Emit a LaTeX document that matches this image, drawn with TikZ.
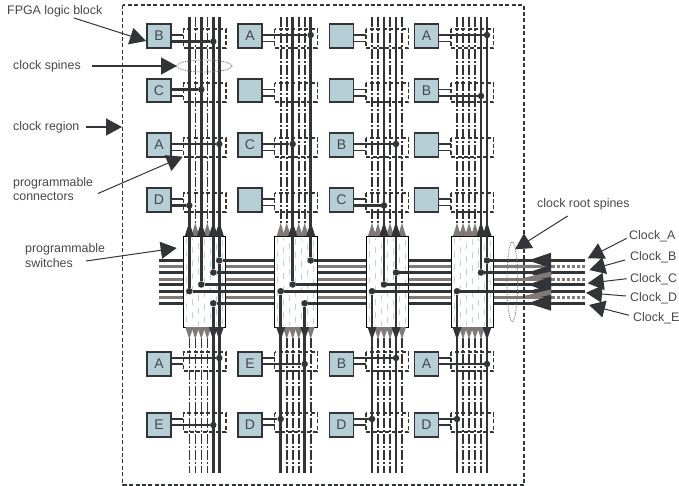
\documentclass[tikz,border=0pt]{standalone}
\usepackage{fontspec}
\setmainfont{Liberation Sans}
\usepackage{tikz}
\usetikzlibrary{arrows.meta}
\definecolor{wirecol}{HTML}{333438}
\definecolor{greycol}{HTML}{7F7A78}
\definecolor{blockcol}{HTML}{B6CED6}
\definecolor{speckcol}{HTML}{BCD5DC}
\definecolor{textcol}{HTML}{45474B}

\begin{document}
\begin{tikzpicture}[
    x=1pt, y=-1pt,
    every node/.style={font=\fontsize{12.4}{14.5}\selectfont, text=textcol, align=left},
    logicblock/.style={draw=wirecol, fill=blockcol, line width=1.6pt, minimum width=24pt,
        minimum height=23.5pt, inner sep=0pt, font=\fontsize{14}{14}\selectfont},
    connbox/.style={draw=wirecol, dash pattern=on 4pt off 2.4pt, line width=1.4pt},
    switchbox/.style={draw=black, fill=white, line width=0.7pt},
    solidwire/.style={wirecol, line width=2.6pt},
    dashwire/.style={wirecol, line width=1.6pt, dash pattern=on 10pt off 2pt on 2pt off 2pt},
    clockline/.style={wirecol, line width=2.6pt},
    greyline/.style={greycol, line width=3.2pt},
    stubline/.style={wirecol, line width=1.5pt},
    tapline/.style={wirecol, line width=2.6pt},
    tapdot/.style={circle, fill=wirecol, inner sep=0pt, minimum size=6.5pt},
    leader/.style={wirecol, line width=1pt, -{Triangle[length=16pt, width=17pt]}},
    spineoval/.style={draw=greycol, densely dotted, line width=0.9pt}
]
    \useasboundingbox (0,0) rectangle (679,486);

    % clock lines across the whole region
    \foreach \y in {266.4,279.2,297.3} {
        \draw[greyline] (159,\y) -- (552,\y);
        \draw[greycol, line width=3pt, dash pattern=on 3pt off 2pt] (552,\y) -- (585,\y);
    }
    \foreach \y in {260.5,272.5,284.5,291.2,303.3} {
        \draw[clockline] (159,\y) -- (585,\y);
    }

    % columns: left edge of the connector boxes, then the wires that are solid
    \foreach \c/\x/\top/\bot in {a/183.3/{0,2,4,5}/{4,5},b/274.7/{2,5}/{0,4},
                                 c/366/{2,4}/{0,4},d/451/{4,5}/{0,5}} {
        \foreach \y in {29,83,138,193,352,413} {
            \draw[connbox] (\x,\y) rectangle (\x+42.5,\y+19);
        }
        \foreach \i in {0,...,5} {
            \draw[dashwire] (\x+6+6*\i,17) -- (\x+6+6*\i,224);
            \draw[dashwire] (\x+6+6*\i,338) -- (\x+6+6*\i,473);
        }
        \draw[switchbox] (\x,236) rectangle (\x+42.5,327);
        \foreach \i in {0,...,6} {
            \draw[speckcol, line width=1pt, dash pattern=on 6pt off 7pt, dash phase=4*\i]
                (\x+3+6*\i,238) -- (\x+3+6*\i,326);
        }
        \foreach \i in {0,...,5} {
            \fill[greycol] (\x+2+6*\i,236) -- (\x+6+6*\i,223) -- (\x+10+6*\i,236) -- cycle;
            \fill[greycol] (\x+2+6*\i,327) -- (\x+6+6*\i,339) -- (\x+10+6*\i,327) -- cycle;
        }
        \foreach \i in \top {
            \fill[wirecol] (\x+1.5+6*\i,236) -- (\x+6+6*\i,222) -- (\x+10.5+6*\i,236) -- cycle;
            \draw[solidwire] (\x+6+6*\i,17) -- (\x+6+6*\i,236);
        }
        \foreach \i in \bot {
            \fill[wirecol] (\x+1.5+6*\i,327) -- (\x+6+6*\i,340) -- (\x+10.5+6*\i,327) -- cycle;
            \draw[solidwire] (\x+6+6*\i,327) -- (\x+6+6*\i,473);
        }
    }

    % logic blocks
    \foreach \n/\x/\y/\t in {a1/159/36/B,a2/159/90.5/C,a3/159/145/A,a4/159/200/D,a5/159/364/A,a6/159/425/E,
                             b1/250/36/A,b2/250/90.5/,b3/250/145/C,b4/250/200/,b5/250/364/E,b6/250/425/D,
                             c1/341.5/36/,c2/341.5/90.5/,c3/341.5/145/B,c4/341.5/200/C,c5/341.5/364/B,c6/341.5/425/D,
                             d1/426.5/36/A,d2/426.5/90.5/B,d3/426.5/145/,d4/426.5/200/,d5/426.5/364/A,d6/426.5/425/D} {
        \node[logicblock] (\n) at (\x,\y) {\t};
    }

    % short stubs from each block to its connector box
    \foreach \n/\x in {a/183.3,b/274.7,c/366,d/451} {
        \foreach \r/\y in {1/36,2/90.5,3/145,4/200} {
            \draw[stubline] (\n\r.east |- 0,\y-1) -- (\x,\y-1);
            \draw[stubline] (\n\r.east |- 0,\y+5.5) -- (\x,\y+5.5);
        }
        \foreach \r/\y in {5/364,6/425} {
            \draw[stubline] (\n\r.east |- 0,\y-6) -- (\x,\y-6);
            \draw[stubline] (\n\r.east |- 0,\y) -- (\x,\y);
        }
    }

    % taps from a block onto its clock wire
    \foreach \n/\x/\y in {a1/213.3/41.5,a2/201.3/89.5,a3/219.3/144,a4/189.3/205.5,a5/219.3/358,a6/213.3/425,
                          b1/310.7/35,b3/292.7/144,b5/304.7/364,b6/280.7/419,
                          c3/396/144,c4/384/205.5,c5/396/358,c6/372/419,
                          d1/487/35,d2/481/96,d5/487/364,d6/457/419} {
        \node[tapdot] (t\n) at (\x,\y) {};
        \draw[tapline] (\n.east |- t\n) -- (t\n);
    }

    % taps inside the switches
    \foreach \n/\x/\y/\e/\tip in {sa/219.3/260.5/225.8/17,sb/213.3/272.5/225.8/17,sc/201.3/284.5/225.8/17,
                                  sd/189.3/291.2/225.8/17,se/213.3/303.3/225.8/473,
                                  ta/310.7/260.5/317.2/17,tc/292.7/284.5/317.2/17,
                                  td/280.7/291.2/317.2/473,te/304.7/303.3/317.2/473,
                                  ub/396/272.5/408.5/17,uc/384/284.5/408.5/17,ud/372/291.2/408.5/473,
                                  va/487/260.5/493.5/17,vb/481/272.5/493.5/17,vd/457/291.2/493.5/473} {
        \node[tapdot] (\n) at (\x,\y) {};
        \draw[clockline] (\n) -- (\e,\y);
        \draw[solidwire] (\n) -- (\x,\tip);
    }
    % these three run right through their switch
    \draw[solidwire] (sa) -- (219.3,473);
    \draw[solidwire] (ub) -- (396,473);
    \draw[solidwire] (va) -- (487,473);

    % outer clock region
    \draw[connbox] (122.7,5) rectangle (524,485);

    % heads where the clocks enter
    \foreach \y/\a/\b in {260.5/252.7/268,272.5/265/282,284.5/277/293,291.2/285/300,303.3/295/310.7} {
        \fill[wirecol] (528,\y) -- (551,\a) -- (551,\b) -- cycle;
    }
    \fill[greycol] (510,264.8) -- (535,264.8) -- (544,266.6) -- (535,268) -- (510,268) -- cycle;
    \fill[greycol] (525,277.6) -- (551,271.5) -- (551,277) -- (525,280.8) -- cycle;
    \fill[greycol] (525,295.7) -- (551,289.5) -- (551,295) -- (525,298.9) -- cycle;

    % labels and their leaders
    \coordinate (tipblock) at (146,41);
    \coordinate (tipspine) at (177,66);
    \coordinate (tipregion) at (122,127);
    \coordinate (tipconn) at (182.7,156.7);
    \coordinate (tipswitch) at (176.7,248);
    \coordinate (tiproot) at (515,249.3);

    \node[anchor=west, inner sep=0pt] (lblblock) at (7,11) {FPGA logic block};
    \node[anchor=west, inner sep=0pt] (lblspine) at (13,66) {clock spines};
    \node[anchor=west, inner sep=0pt] (lblregion) at (13,127) {clock region};
    \node[anchor=west, inner sep=0pt] (lblconn) at (13,189) {programmable\\connectors};
    \node[anchor=west, inner sep=0pt] (lblswitch) at (25,255.5) {programmable\\switches};
    \node[anchor=west, inner sep=0pt] (lblroot) at (537,204) {clock root spines};

    \draw[leader] ([shift={(67,7)}]lblblock.west) -- (tipblock);
    \draw[leader, line width=1.3pt] ([shift={(79,0)}]lblspine.west) -- (tipspine);
    \draw[leader, line width=1.3pt] ([shift={(73,0)}]lblregion.west) -- (tipregion);
    \draw[leader] ([shift={(85,4.5)}]lblconn.west) -- (tipconn);
    \draw[leader] ([shift={(61,5.5)}]lblswitch.west) -- (tipswitch);
    \draw[leader] ([shift={(30.7,12)}]lblroot.west) -- (tiproot);

    \draw[spineoval] (204.3,66) ellipse (27.7 and 6);
    \draw[spineoval] (512.3,281.7) ellipse (5.3 and 40);

    % the five clock inputs
    \foreach \n/\t/\lx/\ly/\sx/\sy/\tx/\ty in {
        A/Clock\_A/629/236/-2.3/2.3/587.7/258.3,
        B/Clock\_B/630/257.7/-5/2.3/589.3/270,
        C/Clock\_C/630/279/-3.3/-0.3/587.7/283.3,
        D/Clock\_D/630/298.7/-4/-2.7/586/292.7,
        E/Clock\_E/633/318.3/-4/-3/589/305} {
        \node[anchor=west, inner sep=0pt] (clk\n) at (\lx,\ly) {\t};
        \coordinate (tip\n) at (\tx,\ty);
        \draw[leader] ([shift={(\sx,\sy)}]clk\n.west) -- (tip\n);
    }
\end{tikzpicture}
\end{document}
